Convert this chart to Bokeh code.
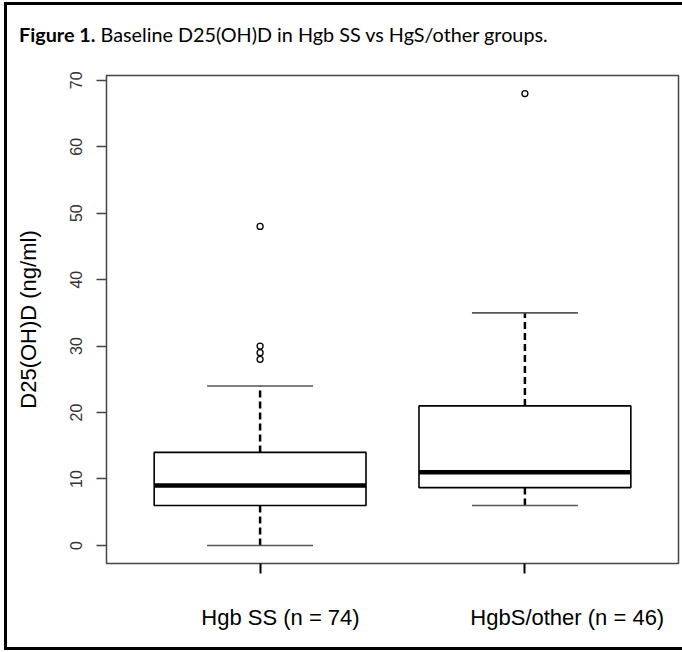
import numpy as np
from bokeh.plotting import figure
from bokeh.layouts import column
from bokeh.models import Range1d, FixedTicker, Div
from bokeh.embed import file_html
from bokeh.resources import INLINE

# ---- data ----
groups = ["Hgb SS (n = 74)", "HgbS/other (n = 46)"]
lower_whisker = [0, 6]
q1 = [6, 8.7]
median = [9, 11]
q3 = [14, 21]
upper_whisker = [24, 35]
outliers_ss = [28, 29, 30, 48]
outliers_other = [68]
y_ticks = [0, 10, 20, 30, 40, 50, 60, 70]
title_bold = "Figure 1."
title_rest = "Baseline D25(OH)D in Hgb SS vs HgS/other groups."
y_label = "D25(OH)D (ng/ml)"

# ---- derived positions (R boxplot conventions) ----
pos = np.arange(1, len(groups) + 1)
box_w = 0.8
cap_w = 0.4
label_shift = np.array([0.077, 0.16])   # group labels sit right of their ticks in the original
all_vals = lower_whisker + upper_whisker + outliers_ss + outliers_other
lo, hi = min(all_vals), max(all_vals)
ypad = 0.04 * (hi - lo)
x_lo, x_hi = 0.5, len(groups) + 0.5
xpad = 0.04 * (x_hi - x_lo)

title_div = Div(
    text=('<div style="font-family: Lato, sans-serif; font-size: 19.8px; color: black; '
          'line-height: 24px; margin: 0; padding: 20px 0 0 15px; white-space: nowrap;">'
          f'<span style="font-weight: bold;">{title_bold}</span> {title_rest}</div>'),
    width=678, height=63, margin=0)

p = figure(width=678, height=585, output_backend="svg", toolbar_location=None,
           x_range=Range1d(x_lo - xpad, x_hi + xpad),
           y_range=Range1d(lo - ypad, hi + ypad),
           min_border_left=102, min_border_right=4,
           min_border_top=10, min_border_bottom=87)
p.margin = 0
p.grid.visible = False
p.background_fill_color = "white"
p.border_fill_color = None
p.outline_line_color = "#444444"
p.outline_line_width = 1.5

# x axis: labels at (shifted) major positions, visible tick marks as minor ticks at the groups
lab_pos = pos + label_shift
p.xaxis.ticker = FixedTicker(ticks=[float(v) for v in lab_pos],
                             minor_ticks=[float(v) for v in pos])
p.xaxis.major_label_overrides = {float(v): g for v, g in zip(lab_pos, groups)}
p.xaxis.axis_line_color = None
p.xaxis.major_tick_in = 0
p.xaxis.major_tick_out = 10
p.xaxis.major_tick_line_color = None
p.xaxis.minor_tick_in = 0
p.xaxis.minor_tick_out = 10
p.xaxis.minor_tick_line_width = 2
p.xaxis.minor_tick_line_color = "black"
p.xaxis.major_label_text_font = "Liberation Sans"
p.xaxis.major_label_text_font_size = "22px"
p.xaxis.major_label_text_color = "black"
p.xaxis.major_label_standoff = 31

# y axis
p.yaxis.ticker = FixedTicker(ticks=y_ticks)
p.yaxis.axis_line_color = None
p.yaxis.major_tick_in = 0
p.yaxis.major_tick_out = 10
p.yaxis.major_tick_line_color = "#444444"
p.yaxis.major_tick_line_width = 1.5
p.yaxis.minor_tick_line_color = None
p.yaxis.major_label_orientation = "vertical"
p.yaxis.major_label_text_font = "Liberation Sans"
p.yaxis.major_label_text_font_size = "16px"
p.yaxis.major_label_text_color = "#333333"
p.yaxis.major_label_standoff = 14
p.yaxis.axis_label = y_label
p.yaxis.axis_label_text_font = "Liberation Sans"
p.yaxis.axis_label_text_font_size = "22px"
p.yaxis.axis_label_text_font_style = "normal"
p.yaxis.axis_label_text_color = "black"
p.yaxis.axis_label_standoff = 27

# whiskers
dash = "7 4"
p.segment(x0=pos, y0=q3, x1=pos, y1=upper_whisker, line_color="black",
          line_width=2.5, line_dash=dash, line_cap="butt")
p.segment(x0=pos, y0=lower_whisker, x1=pos, y1=q1, line_color="black",
          line_width=2.5, line_dash=dash, line_cap="butt")
# caps
p.segment(x0=pos - cap_w / 2, y0=upper_whisker, x1=pos + cap_w / 2, y1=upper_whisker,
          line_color="#555555", line_width=1.6)
p.segment(x0=pos - cap_w / 2, y0=lower_whisker, x1=pos + cap_w / 2, y1=lower_whisker,
          line_color="#555555", line_width=1.6)
# boxes
p.vbar(x=pos, width=box_w, bottom=q1, top=q3, fill_color="white",
       line_color="black", line_width=1.6)
# medians
p.segment(x0=pos - box_w / 2, y0=median, x1=pos + box_w / 2, y1=median,
          line_color="black", line_width=4.5, line_cap="butt")
# outliers
out_x = [pos[0]] * len(outliers_ss) + [pos[1]] * len(outliers_other)
out_y = outliers_ss + outliers_other
p.scatter(x=out_x, y=out_y, marker="circle", size=6, fill_color=None,
          line_color="black", line_width=1.3)

layout = column(title_div, p, spacing=0, margin=(2, 0, 0, 4),
                styles={"box-shadow": "inset 3px 3px 0 0 black, inset 0 -3px 0 0 black"})

open("out.html", "w").write(file_html(layout, INLINE))
